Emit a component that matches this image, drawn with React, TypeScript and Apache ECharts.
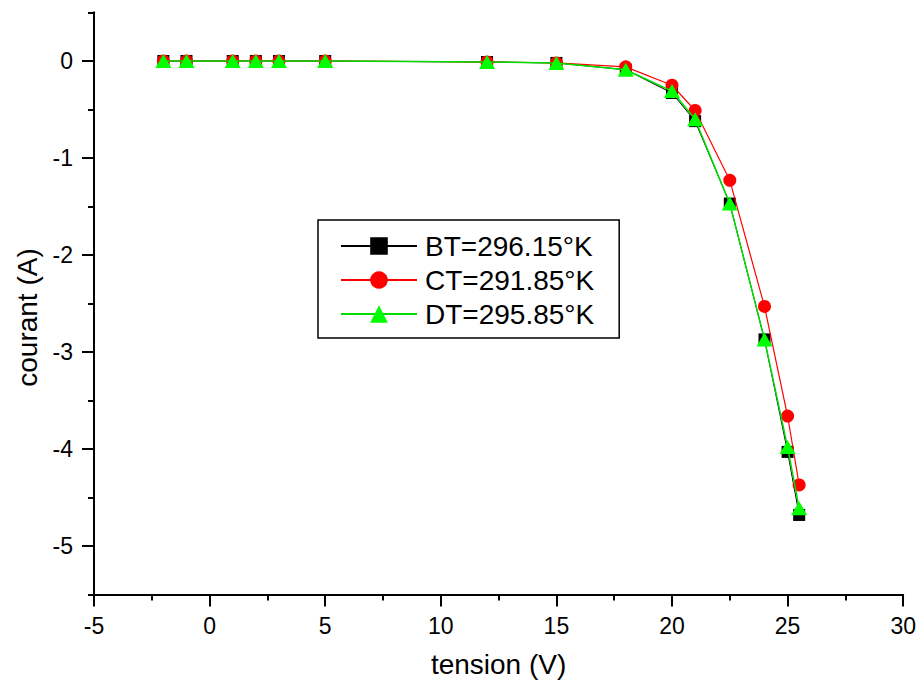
import React, { useEffect, useRef } from "react";
import * as echarts from "echarts";

const tension = [-2, -1, 1, 2, 3, 5, 12, 15, 18, 20, 21, 22.5, 24, 25, 25.5];
const courantB = [0, 0, 0, 0, 0, 0, -0.01, -0.02, -0.09, -0.33, -0.62, -1.47, -2.87, -4.03, -4.68];
const courantC = [0, 0, 0, 0, 0, 0, -0.01, -0.02, -0.06, -0.25, -0.51, -1.23, -2.53, -3.66, -4.37];
const courantD = [0, 0, 0, 0, 0, 0, -0.01, -0.02, -0.09, -0.31, -0.60, -1.47, -2.87, -3.98, -4.61];
const seriesNames = ["BT=296.15°K", "CT=291.85°K", "DT=295.85°K"];
const yMajorTicks = [-5, -4, -3, -2, -1, 0];

const FONT = "Arial, 'Liberation Sans', sans-serif";

function pairs(xs: number[], ys: number[]) {
  return xs.map((x, i) => [x, ys[i]]);
}

export default function App() {
  const ref = useRef<HTMLDivElement>(null);
  useEffect(() => {
    if (!ref.current) return;
    const chart = echarts.init(ref.current, undefined, { renderer: "svg" });
    const axisLine = { show: true, onZero: false, lineStyle: { color: "#000", width: 2 } };
    chart.setOption({
      animation: false,
      backgroundColor: "#fff",
      grid: { left: 94, top: 12.5, right: 15, bottom: 89.5 },
      legend: {
        orient: "vertical",
        left: 318,
        top: 220,
        padding: [12, 25, 10, 22],
        itemGap: 6,
        itemWidth: 76,
        itemHeight: 22,
        borderColor: "#000",
        borderWidth: 1.5,
        textStyle: { fontFamily: FONT, fontSize: 28, color: "#000", lineHeight: 28, padding: [0, 0, 0, 3] },
        data: seriesNames,
      },
      xAxis: {
        type: "value",
        min: -5,
        max: 30,
        interval: 5,
        name: "tension (V)",
        nameLocation: "middle",
        nameGap: 56,
        nameTextStyle: { fontFamily: FONT, fontSize: 28, color: "#000" },
        axisLine,
        axisTick: { show: true, length: 12, lineStyle: { color: "#000", width: 2 } },
        minorTick: { show: true, splitNumber: 2, length: 6, lineStyle: { color: "#000", width: 2 } },
        axisLabel: { fontFamily: FONT, fontSize: 23, color: "#000", margin: 20 },
        splitLine: { show: false },
        minorSplitLine: { show: false },
      },
      yAxis: [
        {
          type: "value",
          min: -5.5,
          max: 0.5,
          position: "left",
          name: "courant (A)",
          nameLocation: "middle",
          nameGap: 51,
          nameTextStyle: { fontFamily: FONT, fontSize: 28, color: "#000", padding: [0, 28, 0, 0] },
          axisLine,
          axisTick: { show: true, length: 12, customValues: yMajorTicks, lineStyle: { color: "#000", width: 2 } },
          axisLabel: { fontFamily: FONT, fontSize: 23, color: "#000", margin: 21, customValues: yMajorTicks },
          splitLine: { show: false },
        },
        {
          type: "value",
          min: -5.5,
          max: 0.5,
          interval: 0.5,
          position: "left",
          axisLine,
          axisTick: { show: true, length: 6, lineStyle: { color: "#000", width: 2 } },
          axisLabel: { show: false },
          splitLine: { show: false },
        },
      ],
      series: [
        {
          name: seriesNames[0],
          type: "line",
          data: pairs(tension, courantB),
          symbol: "rect",
          symbolSize: 12,
          itemStyle: { color: "#000" },
          lineStyle: { color: "#000", width: 1 },
          z: 2,
        },
        {
          name: seriesNames[1],
          type: "line",
          data: pairs(tension, courantC),
          symbol: "circle",
          symbolSize: 13,
          itemStyle: { color: "#ff0000" },
          lineStyle: { color: "#ff0000", width: 1.2 },
          z: 3,
        },
        {
          name: seriesNames[2],
          type: "line",
          data: pairs(tension, courantD),
          symbol: "triangle",
          symbolSize: [16, 14],
          itemStyle: { color: "#00ff00" },
          lineStyle: { color: "#00dd00", width: 1.5 },
          z: 4,
        },
      ],
    });
    return () => chart.dispose();
  }, []);
  return <div ref={ref} style={{ position: "absolute", left: 0, top: 0, width: 919, height: 684 }} />;
}
